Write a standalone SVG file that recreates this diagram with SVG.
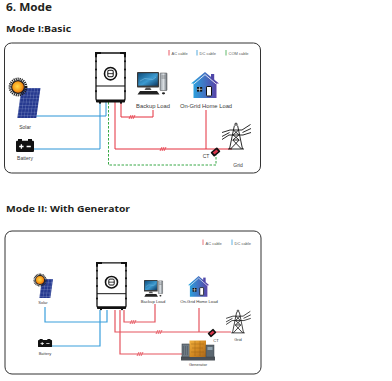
<svg xmlns="http://www.w3.org/2000/svg" xmlns:xlink="http://www.w3.org/1999/xlink" width="392" height="381" viewBox="0 0 392 381">
  <style>
    .title { font-family: "Open Sans", "Liberation Sans", sans-serif; font-weight: 700; fill: #231f20; }
    .lbl { font-family: "Liberation Sans", Arial, sans-serif; fill: #3a3a3a; text-anchor: middle; }
    .leg { font-family: "Liberation Sans", Arial, sans-serif; fill: #555; font-size: 4px; }
    .frame { fill: #fff; stroke: #333; stroke-width: 1; }
    .ac1 { fill: none; stroke: #e42f3c; stroke-width: 1; }
    .dc1 { fill: none; stroke: #2a94d6; stroke-width: 1; }
    .com1 { fill: none; stroke: #38a846; stroke-width: 1; stroke-dasharray: 2.5 1.5; }
    .ac2 { fill: none; stroke: #e5545e; stroke-width: 1.2; }
    .dc2 { fill: none; stroke: #3a9fdc; stroke-width: 1.2; }
  </style>
  <defs>
    <radialGradient id="sunGrad" cx="0.45" cy="0.45" r="0.6">
      <stop offset="0" stop-color="#ffd84a"/>
      <stop offset="0.6" stop-color="#f7a21e"/>
      <stop offset="1" stop-color="#e0620c"/>
    </radialGradient>
    <linearGradient id="houseGrad" x1="0" y1="0" x2="1" y2="0">
      <stop offset="0" stop-color="#27a9e1"/>
      <stop offset="1" stop-color="#5e3aa2"/>
    </linearGradient>
    <linearGradient id="screenGrad" x1="0" y1="0" x2="1" y2="1">
      <stop offset="0" stop-color="#0f4f7e"/>
      <stop offset="0.55" stop-color="#3c9ad0"/>
      <stop offset="1" stop-color="#0d3a63"/>
    </linearGradient>
    <linearGradient id="towerGrad" x1="0" y1="0" x2="1" y2="0">
      <stop offset="0" stop-color="#9ba3aa"/>
      <stop offset="0.5" stop-color="#d8dde1"/>
      <stop offset="1" stop-color="#6d757c"/>
    </linearGradient>
    <linearGradient id="genGrad" x1="0" y1="0" x2="1" y2="1">
      <stop offset="0" stop-color="#f0b040"/>
      <stop offset="0.5" stop-color="#d48a22"/>
      <stop offset="1" stop-color="#a8661a"/>
    </linearGradient>
    <pattern id="cells" width="3.2" height="3.4" patternUnits="userSpaceOnUse">
      <rect width="3.2" height="3.4" fill="#26398f"/>
      <path d="M0 0 H3.2 M0 0 V3.4" stroke="#c9d3f0" stroke-width="0.35"/>
    </pattern>

    <!-- hybrid inverter, local box 0..31 x 0..50 -->
    <g id="inverter">
      <rect x="1" y="1" width="29" height="47" rx="2.5" fill="#fff" stroke="#111" stroke-width="1.3"/>
      <path d="M1 33 H30" stroke="#111" stroke-width="1"/>
      <path d="M1 5 V1 H6 M25 1 H30 V5" stroke="#111" stroke-width="2" fill="none"/>
      <g fill="#111">
        <circle cx="1" cy="9" r="1"/><circle cx="1" cy="17" r="1"/><circle cx="1" cy="25" r="1"/><circle cx="1" cy="38" r="1"/>
        <circle cx="30" cy="9" r="1"/><circle cx="30" cy="17" r="1"/><circle cx="30" cy="25" r="1"/><circle cx="30" cy="38" r="1"/>
        <rect x="1" y="46" width="29" height="3" rx="0.8"/>
        <rect x="4" y="48.5" width="2" height="1.6"/><rect x="25" y="48.5" width="2" height="1.6"/>
      </g>
      <circle cx="15.5" cy="21" r="6" fill="#fff" stroke="#111" stroke-width="1.6"/>
      <rect x="12.8" y="17.8" width="5.4" height="6.2" rx="1.2" fill="none" stroke="#111" stroke-width="1"/>
      <path d="M12.8 21 H18.2" stroke="#111" stroke-width="0.8"/>
    </g>

    <!-- sun, centred on origin -->
    <g id="sun">
      <circle r="8.2" fill="none" stroke="#1a1a1a" stroke-width="2.4" stroke-dasharray="1.1 0.9"/>
      <circle r="7" fill="#1a1a1a"/>
      <circle r="5.8" fill="url(#sunGrad)"/>
    </g>

    <!-- battery, local 0..18 x 0..13 -->
    <g id="battery">
      <rect x="2" y="0" width="4" height="2.5" fill="#111"/>
      <rect x="12" y="0" width="4" height="2.5" fill="#111"/>
      <rect x="0" y="1.8" width="18" height="11.2" rx="1" fill="#111"/>
      <path d="M3.2 7.5 H7.6 M5.4 5.3 V9.7 M10.6 7.5 H14.8" stroke="#fff" stroke-width="1.3"/>
    </g>

    <!-- desktop computer, local 0..31 x 0..23 -->
    <g id="computer">
      <rect x="0" y="0" width="22" height="15.5" rx="0.8" fill="#3a3a3a"/>
      <rect x="1.2" y="1.2" width="19.6" height="12.4" fill="url(#screenGrad)"/>
      <path d="M3 9 Q8 5 12 7 T19 5" fill="none" stroke="#9fd3f0" stroke-width="0.6" opacity="0.7"/>
      <polygon points="9,15.5 13,15.5 14.5,18 7.5,18" fill="#555"/>
      <rect x="23" y="1" width="7" height="17.5" rx="0.6" fill="url(#towerGrad)" stroke="#444" stroke-width="0.5"/>
      <path d="M24.5 4 H28.5 M24.5 6 H28.5" stroke="#444" stroke-width="0.5"/>
      <polygon points="3,19 20,19 22.5,22.5 0.5,22.5" fill="#222"/>
      <ellipse cx="26.5" cy="21.3" rx="1.6" ry="1.1" fill="#222"/>
    </g>

    <!-- house, local 0..28 x 0..26 -->
    <g id="house">
      <path d="M14 0 L28 11.5 L25.5 11.5 L25.5 26 L2.5 26 L2.5 11.5 L0 11.5 Z" fill="url(#houseGrad)"/>
      <rect x="20" y="2" width="3.2" height="6" fill="#4f46a8"/>
      <polyline points="2.8,12 14,2.6 25.2,12" fill="none" stroke="#fff" stroke-width="0.8"/>
      <rect x="6" y="15" width="5.2" height="4.6" fill="#111"/>
      <path d="M8.6 15 V19.6 M6 17.3 H11.2" stroke="#fff" stroke-width="0.6"/>
      <rect x="15.5" y="14.5" width="5" height="9.5" rx="0.6" fill="#fff" stroke="#111" stroke-width="1"/>
    </g>

    <!-- transmission tower, top centre at origin -->
    <g id="tower" fill="none" stroke="#111" stroke-width="0.9">
      <circle cx="0" cy="1.2" r="1.1"/>
      <path d="M-1.6 2.5 L-6.5 26 M1.6 2.5 L6.5 26"/>
      <path d="M-6 7 H6 M-7 12 H7 M-3.2 17 H3.2 M-8 26 H8"/>
      <path d="M-2.6 7 L2.9 12 M2.6 7 L-2.9 12 M-2.9 12 L3.2 17 M2.9 12 L-3.2 17 M-3.2 17 L5.5 26 M3.2 17 L-5.5 26"/>
      <path d="M-6 7 L-14 9.5 M-6.5 9.5 L-14 13.5 M-7 12 L-14 16.5"/>
      <path d="M6 7 L14.5 1.5 M6.5 9.5 L15 5.5 M7 12 L15 9.5"/>
    </g>

    <!-- current transformer clamp -->
    <g id="ct" transform="rotate(-40)">
      <rect x="-4.2" y="-2.9" width="8.4" height="5.8" rx="0.9" fill="#111"/>
      <rect x="-2.4" y="-1.4" width="4.8" height="2.8" fill="#d9344a"/>
    </g>

    <!-- diesel generator set, local 0..34 x 0..21 -->
    <g id="generator">
      <rect x="0" y="16.5" width="34" height="4" rx="0.6" fill="#4a5057"/>
      <rect x="1" y="4" width="7.5" height="13" fill="#6e7a84" stroke="#3b4248" stroke-width="0.6"/>
      <path d="M2.5 6 V15 M4.5 6 V15 M6.5 6 V15" stroke="#48525a" stroke-width="0.5"/>
      <rect x="8.5" y="0.5" width="16.5" height="16.5" fill="url(#genGrad)"/>
      <path d="M10 4 H23 M11 8 H22 M10 12 H23 M14 1 V16 M19 1 V16" stroke="#8a5512" stroke-width="0.5" opacity="0.7"/>
      <rect x="25" y="5" width="8" height="12" fill="#5c6871" stroke="#3b4248" stroke-width="0.5"/>
      <rect x="26.5" y="7" width="5" height="3" fill="#8fa1ad"/>
    </g>

    <path id="hash1" d="M-3 2 L-1 -2 M-1 2 L1 -2 M1 2 L3 -2" stroke="#e42f3c" stroke-width="0.8"/>
    <path id="hash2" d="M-3 2 L-1 -2 M-1 2 L1 -2 M1 2 L3 -2" stroke="#e5545e" stroke-width="0.9"/>
  </defs>

  <rect width="392" height="381" fill="#fff"/>

  <!-- headings -->
  <text class="title" x="6" y="10.5" font-size="11" textLength="46" lengthAdjust="spacingAndGlyphs">6. Mode</text>
  <text class="title" x="6" y="31.5" font-size="9" textLength="65" lengthAdjust="spacingAndGlyphs">Mode I:Basic</text>
  <text class="title" x="6" y="211.5" font-size="9" textLength="124" lengthAdjust="spacingAndGlyphs">Mode II: With Generator</text>

  <!-- ===== Mode I: basic ===== -->
  <rect class="frame" x="4.5" y="43" width="256" height="130" rx="7"/>

  <g id="legend-1">
    <path d="M169 50 V55.5" stroke="#e42f3c" stroke-width="0.8"/>
    <text class="leg" x="171.5" y="54.5">AC cable</text>
    <path d="M197 50 V55.5" stroke="#2a94d6" stroke-width="0.8"/>
    <text class="leg" x="199.5" y="54.5">DC cable</text>
    <path d="M226 50 V55.5" stroke="#38a846" stroke-width="0.8"/>
    <text class="leg" x="228.5" y="54.5">COM cable</text>
  </g>

  <g id="connectors-1">
    <path class="dc1" d="M106 102 V116 H36"/>
    <path class="dc1" d="M100 102 V149 H34"/>
    <path class="com1" d="M108.5 102 V165 H216 V155"/>
    <path class="ac1" d="M115 102 V149 H232"/>
    <path class="ac1" d="M206 110 V149"/>
    <path class="ac1" d="M121 102 V117 H153 V110"/>
    <use href="#hash1" x="132" y="117"/>
    <use href="#hash1" x="163" y="149"/>
  </g>

  <g id="inverter-1"><use href="#inverter" transform="translate(95,52) scale(1,1.03)"/></g>

  <g id="solar-1">
    <rect x="0" y="0" width="19" height="30" fill="url(#cells)" transform="translate(21.5,88) skewX(-8)"/>
    <use href="#sun" transform="translate(18,87)"/>
    <text class="lbl" x="25" y="129" font-size="5">Solar</text>
  </g>

  <g id="battery-1">
    <use href="#battery" transform="translate(16,139)"/>
    <text class="lbl" x="25" y="160" font-size="5">Battery</text>
  </g>

  <g id="backup-load-1">
    <use href="#computer" transform="translate(137,72)"/>
    <text class="lbl" x="153" y="107.7" font-size="5.8">Backup Load</text>
  </g>

  <g id="home-load-1">
    <use href="#house" transform="translate(191,72)"/>
    <text class="lbl" x="206" y="107.7" font-size="5.8">On-Grid Home Load</text>
  </g>

  <g id="ct-1">
    <use href="#ct" transform="translate(215.5,152)"/>
    <text class="lbl" x="206" y="158" font-size="5">CT</text>
  </g>

  <g id="grid-1">
    <use href="#tower" transform="translate(236,123)"/>
    <text class="lbl" x="238" y="167" font-size="5">Grid</text>
  </g>

  <!-- ===== Mode II: with generator ===== -->
  <rect class="frame" x="5" y="231" width="256" height="143" rx="7"/>

  <g id="legend-2">
    <path d="M203 239.5 V245" stroke="#e5545e" stroke-width="0.8"/>
    <text class="leg" x="205.5" y="244.5">AC cable</text>
    <path d="M232 239.5 V245" stroke="#3a9fdc" stroke-width="0.8"/>
    <text class="leg" x="234.5" y="244.5">DC cable</text>
  </g>

  <g id="connectors-2">
    <path class="dc2" d="M45 307 V322 H107 V310"/>
    <path class="dc2" d="M100 310 V346 H52"/>
    <path class="ac2" d="M115 310 V332 H231"/>
    <path class="ac2" d="M199 308 V332"/>
    <path class="ac2" d="M120 310 V354 H182"/>
    <path class="ac2" d="M124 310 V322 H155 V304"/>
    <use href="#hash2" x="133" y="322"/>
    <use href="#hash2" x="159" y="332"/>
    <use href="#hash2" x="140" y="354"/>
  </g>

  <g id="inverter-2"><use href="#inverter" transform="translate(96,262) scale(1,0.96)"/></g>

  <g id="solar-2">
    <rect x="0" y="0" width="11" height="19" fill="url(#cells)" transform="translate(42,279) skewX(-8)"/>
    <use href="#sun" transform="translate(40,280) scale(0.7)"/>
    <text class="lbl" x="43" y="303.5" font-size="4">Solar</text>
  </g>

  <g id="battery-2">
    <use href="#battery" transform="translate(38,339) scale(0.78,0.62)"/>
    <text class="lbl" x="45" y="354.5" font-size="4">Battery</text>
  </g>

  <g id="backup-load-2">
    <use href="#computer" transform="translate(144,280) scale(0.62,0.74)"/>
    <text class="lbl" x="153" y="303" font-size="4.2">Backup Load</text>
  </g>

  <g id="home-load-2">
    <use href="#house" transform="translate(188,276) scale(0.76,0.8)"/>
    <text class="lbl" x="199" y="303" font-size="4.2">On-Grid Home Load</text>
  </g>

  <g id="ct-2">
    <use href="#ct" transform="translate(212,333) scale(0.9)"/>
    <text class="lbl" x="216" y="342" font-size="4">CT</text>
  </g>

  <g id="grid-2">
    <use href="#tower" transform="translate(238,310) scale(0.85,0.88)"/>
    <text class="lbl" x="238" y="340.5" font-size="4">Grid</text>
  </g>

  <g id="generator-2">
    <use href="#generator" transform="translate(181,340)"/>
    <text class="lbl" x="198" y="366" font-size="4">Generator</text>
  </g>
</svg>
